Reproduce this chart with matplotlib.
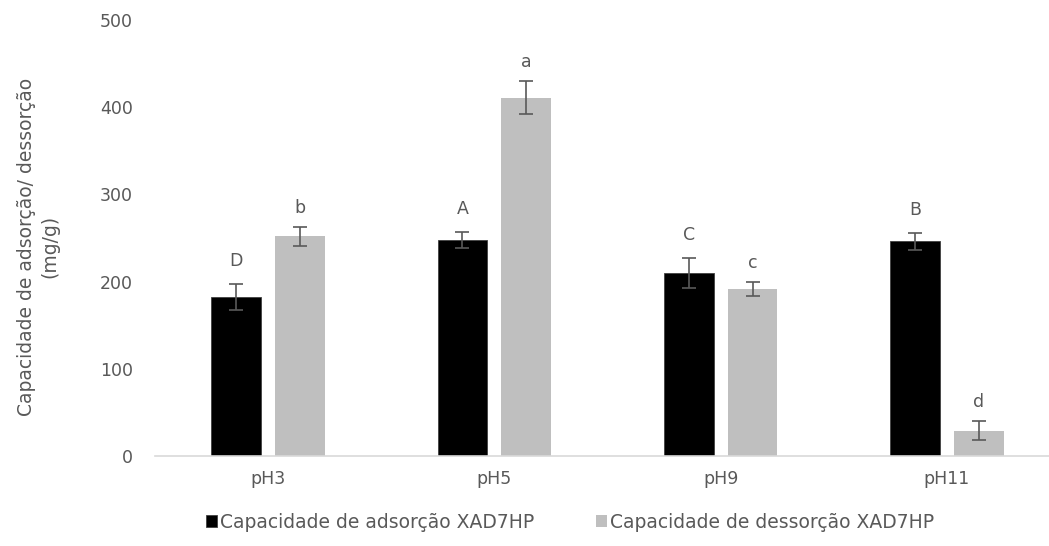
import numpy as np
import matplotlib.pyplot as plt

# data
categories = ["pH3", "pH5", "pH9", "pH11"]
adsorcao = [182, 248, 210, 246]
adsorcao_err = [15, 9, 17, 10]
dessorcao = [252, 411, 192, 29]
dessorcao_err = [11, 19, 8, 11]
letras_ads = ["D", "A", "C", "B"]
letras_des = ["b", "a", "c", "d"]

plt.rcParams['font.family'] = ['DejaVu Sans']
txt = "#595959"

fig = plt.figure(figsize=(10.49, 5.46), dpi=100)
ax = fig.add_axes([155 / 1049, 90 / 546, 905 / 1049, 436 / 546])

x = np.arange(len(categories))
w = 0.22
off = 0.141

ax.bar(x - off, adsorcao, w, color="black", edgecolor="#404040", lw=0.6,
       label="Capacidade de adsorção XAD7HP", zorder=2)
ax.bar(x + off, dessorcao, w, color="#bfbfbf",
       label="Capacidade de dessorção XAD7HP", zorder=2)
ax.errorbar(x - off, adsorcao, yerr=adsorcao_err, fmt="none", ecolor=txt,
            elinewidth=1.2, capsize=5, capthick=1.2, zorder=3)
ax.errorbar(x + off, dessorcao, yerr=dessorcao_err, fmt="none", ecolor=txt,
            elinewidth=1.2, capsize=5, capthick=1.2, zorder=3)

# letras de significancia
for i in range(len(categories)):
    ax.annotate(letras_ads[i], (x[i] - off, adsorcao[i] + adsorcao_err[i]),
                xytext=(0, 10), textcoords="offset points", ha="center",
                va="bottom", fontsize=12.5, color=txt)
    ax.annotate(letras_des[i], (x[i] + off, dessorcao[i] + dessorcao_err[i]),
                xytext=(0, 7), textcoords="offset points", ha="center",
                va="bottom", fontsize=12.5, color=txt)

ax.set_xlim(-0.5, 3.5)
ax.set_ylim(0, 500)
ax.set_yticks(range(0, 501, 100))
ax.set_xticks(x)
ax.set_xticklabels(categories)
ax.tick_params(length=0, labelsize=12.5, colors=txt, pad=10)
ax.tick_params(axis="y", pad=16)
for s in ["top", "right", "left"]:
    ax.spines[s].set_visible(False)
ax.spines["bottom"].set_color("#d9d9d9")
ax.spines["bottom"].set_linewidth(1.2)

ax.set_ylabel("Capacidade de adsorção/ dessorção\n(mg/g)", fontsize=13.5,
              color=txt, linespacing=1.3)
ax.yaxis.set_label_coords(-0.106, 0.48)

fig.legend(loc="center", bbox_to_anchor=(570 / 1049, 1 - 522 / 546), ncol=2,
           frameon=False, fontsize=13.5, labelcolor=txt, handlelength=0.6,
           handleheight=0.6, handletextpad=0.15, columnspacing=3.3)

fig.savefig("out.png", dpi=100)
